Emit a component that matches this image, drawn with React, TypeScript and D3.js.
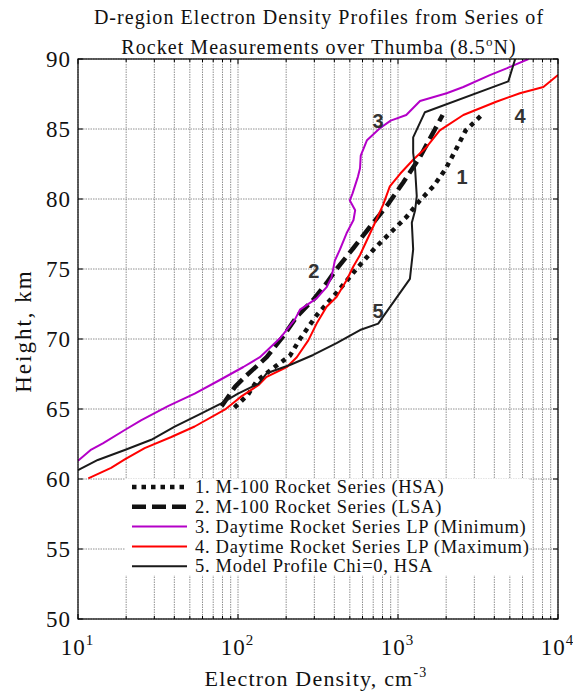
import React from "react";
import * as d3 from "d3";

// ---- data: [electron density (cm^-3), height (km)] ----
const hsaSeries: [number, number][] = [
  [95, 65.1], [115, 66.0], [131, 67.0], [174, 68.1], [211, 68.8], [244, 70.0], [310, 71.7],
  [413, 73.3], [550, 75.0], [718, 76.5], [889, 77.55], [1126, 78.7], [1373, 79.9],
  [1663, 80.9], [1973, 82.1], [2270, 83.4], [2650, 84.9], [3336, 86.0],
];
const lsaSeries: [number, number][] = [
  [79, 65.2], [96, 66.6], [113, 67.4], [151, 68.7], [192, 70.2], [233, 71.6], [295, 72.8],
  [358, 74.0], [413, 75.0], [527, 76.5], [667, 78.0], [850, 79.5], [1080, 81.2],
  [1373, 83.0], [1900, 86.0],
];
const lpMinSeries: [number, number][] = [
  [10, 61.3], [12.1, 62.1], [14.3, 62.55], [19.6, 63.5], [24.9, 64.2], [36.5, 65.2],
  [53.6, 66.1], [75, 67.0], [108, 68.0], [137, 68.7], [183, 70.05], [227, 71.4], [244, 72.1],
  [310, 72.9], [358, 73.7], [384, 74.4], [403, 75.6], [434, 76.4], [477, 77.55], [527, 78.5],
  [540, 79.2], [500, 79.9], [520, 80.4], [562, 81.6], [579, 82.2], [585, 83.1], [640, 84.2],
  [770, 85.05], [900, 85.6], [1126, 86.0], [1373, 87.0], [2014, 87.55], [2560, 88.0],
  [3750, 88.85], [4773, 89.33], [6540, 90.0],
];
const lpMaxSeries: [number, number][] = [
  [11.6, 60.05], [16.1, 60.8], [19.6, 61.4], [26.1, 62.2], [38.3, 63.0], [53.6, 63.75],
  [82.6, 64.95], [95, 65.5], [105, 65.9], [134, 66.7], [151, 67.3], [202, 68.0], [233, 68.7],
  [275, 69.9], [310, 71.1], [358, 72.3], [413, 73.0], [477, 74.2], [527, 75.2], [579, 76.0],
  [698, 78.0], [808, 79.6], [889, 80.9], [1031, 81.8], [1244, 82.8], [1506, 83.7],
  [1825, 84.9], [2560, 86.0], [4110, 86.95], [5780, 87.55], [8100, 88.0], [10000, 88.86],
];
const modelSeries: [number, number][] = [
  [10, 60.64], [13.3, 61.36], [19.6, 62.07], [28.7, 62.8], [40.2, 63.74], [56.2, 64.57],
  [78.7, 65.4], [100, 66.1], [134, 66.8], [151, 67.55], [211, 68.14], [295, 68.86],
  [413, 69.7], [579, 70.64], [752, 71.1], [1187, 74.3], [1244, 76.4], [1220, 78.3],
  [1280, 79.2], [1310, 80.2], [1280, 82.1], [1244, 83.3], [1244, 84.4], [1473, 86.2],
  [4891, 88.4], [5400, 90.0],
];

const legendLabels = [
  "1. M-100 Rocket Series (HSA)",
  "2. M-100 Rocket Series (LSA)",
  "3. Daytime Rocket Series LP (Minimum)",
  "4. Daytime Rocket Series LP (Maximum)",
  "5. Model Profile Chi=0, HSA",
];
const curveTags: { t: string; n: number; h: number }[] = [
  { t: "1", n: 2512, h: 81.6 },
  { t: "2", n: 298, h: 74.9 },
  { t: "3", n: 750, h: 85.6 },
  { t: "4", n: 5787, h: 85.95 },
  { t: "5", n: 750, h: 72.05 },
];
const yTicks = [50, 55, 60, 65, 70, 75, 80, 85, 90];
const xDecades = [1, 2, 3, 4];

const W = 573, H = 694;
const L = 78, R = 558, T = 59, B = 619;

export default function App() {
  const x = d3.scaleLog().domain([10, 10000]).range([L, R]);
  const y = d3.scaleLinear().domain([50, 90]).range([B, T]);
  const line = d3.line<[number, number]>().x((d) => x(d[0])).y((d) => y(d[1]));

  const minor: number[] = [];
  for (let e = 1; e < 4; e++) for (let m = 2; m <= 9; m++) minor.push(m * Math.pow(10, e));
  const majors = [10, 100, 1000, 10000];

  const series = [
    { data: hsaSeries, color: "#111", w: 4.5, dash: "4.5 5" },
    { data: lsaSeries, color: "#111", w: 4.5, dash: "14 6" },
    { data: lpMinSeries, color: "#b400c8", w: 2, dash: "" },
    { data: lpMaxSeries, color: "#ff0000", w: 2, dash: "" },
    { data: modelSeries, color: "#1a1a1a", w: 2, dash: "" },
  ];

  const serif = "'Liberation Serif', 'Times New Roman', serif";
  const gridColor = "#909090";

  return (
    <svg width={W} height={H} style={{ position: "absolute", left: 0, top: 0, background: "#fff" }}>
      <defs>
        <clipPath id="plot">
          <rect x={L} y={T} width={R - L} height={B - T} />
        </clipPath>
      </defs>
      {/* grid */}
      <g stroke={gridColor} strokeWidth={1} strokeDasharray="1.5 1">
        {[...minor, ...majors].map((v, i) => (
          <line key={"gx" + i} x1={x(v)} x2={x(v)} y1={T} y2={B} />
        ))}
        {yTicks.map((v) => (
          <line key={"gy" + v} x1={L} x2={R} y1={y(v)} y2={y(v)} />
        ))}
      </g>
      {/* ticks */}
      <g stroke="#000" strokeWidth={1}>
        {minor.map((v, i) => (
          <g key={"mt" + i}>
            <line x1={x(v)} x2={x(v)} y1={B} y2={B - 3} />
            <line x1={x(v)} x2={x(v)} y1={T} y2={T + 3} />
          </g>
        ))}
        {majors.map((v, i) => (
          <g key={"Mt" + i}>
            <line x1={x(v)} x2={x(v)} y1={B} y2={B - 5} />
            <line x1={x(v)} x2={x(v)} y1={T} y2={T + 5} />
          </g>
        ))}
        {yTicks.map((v) => (
          <g key={"yt" + v}>
            <line x1={L} x2={L + 5} y1={y(v)} y2={y(v)} />
            <line x1={R} x2={R - 5} y1={y(v)} y2={y(v)} />
          </g>
        ))}
      </g>
      {/* curves */}
      <g clipPath="url(#plot)" fill="none">
        {series.map((s, i) => (
          <path
            key={"s" + i}
            d={line(s.data) || ""}
            stroke={s.color}
            strokeWidth={s.w}
            strokeDasharray={s.dash || undefined}
            strokeLinejoin="round"
          />
        ))}
      </g>
      {/* curve tags */}
      <g fontFamily="'Liberation Sans', Arial, sans-serif" fontWeight="bold" fontSize={20} fill="#333" textAnchor="middle">
        {curveTags.map((c) => (
          <text key={c.t} x={x(c.n)} y={y(c.h)} dy="0.36em">
            {c.t}
          </text>
        ))}
      </g>
      {/* legend */}
      <rect x={125} y={478.5} width={404} height={97} fill="#fff" />
      <g fontFamily={serif} fontSize={18.5}>
        {legendLabels.map((t, i) => {
          const ly = 487 + i * 19.8;
          const s = series[i];
          return (
            <g key={"lg" + i}>
              <line
                x1={132}
                x2={187}
                y1={ly}
                y2={ly}
                stroke={s.color}
                strokeWidth={s.w}
                strokeDasharray={s.dash || undefined}
              />
              <text x={195} y={ly} dy="0.34em" fill="#111" letterSpacing="0.7">
                {t}
              </text>
            </g>
          );
        })}
      </g>
      {/* axes box */}
      <rect x={L} y={T} width={R - L} height={B - T} fill="none" stroke="#000" strokeWidth={1.2} />
      {/* y tick labels */}
      <g fontFamily={serif} fontSize={23} fill="#111" textAnchor="end" letterSpacing="1">
        {yTicks.map((v) => (
          <text key={"yl" + v} x={71} y={y(v)} dy="0.35em">
            {v}
          </text>
        ))}
      </g>
      {/* x tick labels */}
      <g fontFamily={serif} fill="#111">
        {xDecades.map((e) => (
          <text key={"xl" + e} x={x(Math.pow(10, e)) - 1} y={655} fontSize={23} textAnchor="middle">
            <tspan letterSpacing="1">10</tspan>
            <tspan dy={-10} fontSize={15}>
              {e}
            </tspan>
          </text>
        ))}
      </g>
      {/* axis titles */}
      <text x={316} y={686} fontFamily={serif} fontSize={22} fill="#111" textAnchor="middle" letterSpacing="1.2">
        Electron Density, cm
        <tspan dy={-9} fontSize={14}>
          -3
        </tspan>
      </text>
      <text
        transform={`translate(31,331) rotate(-90)`}
        fontFamily={serif}
        fontSize={23}
        fill="#111"
        textAnchor="middle"
        letterSpacing="2"
      >
        Height, km
      </text>
      {/* title */}
      <g fontFamily={serif} fontSize={20} fill="#111" textAnchor="middle" letterSpacing="1.05">
        <text x={319} y={24}>D-region Electron Density Profiles from Series of</text>
        <text x={319} y={54}>
          Rocket Measurements over Thumba (8.5
          <tspan dy={-8} fontSize={13}>o</tspan>
          <tspan dy={8}>N)</tspan>
        </text>
      </g>
    </svg>
  );
}
